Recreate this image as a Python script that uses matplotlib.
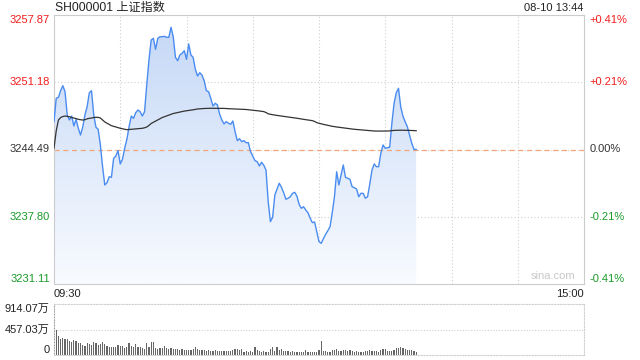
import matplotlib.pyplot as plt
import numpy as np
from matplotlib.colors import LinearSegmentedColormap

plt.rcParams['font.family'] = ['Liberation Sans', 'Noto Sans CJK SC', 'DejaVu Sans']

title = "SH000001 上证指数"
stamp = "08-10 13:44"
prev_close = 3244.49
y_ticks = [3257.87, 3251.18, 3244.49, 3237.80, 3231.11]
pct_labels = ["+0.41%", "+0.21%", "0.00%", "-0.21%", "-0.41%"]
tick_colors = ["#f21c1c", "#f21c1c", "#333333", "#1a9a2a", "#1a9a2a"]
vol_ticks = [914.07, 457.03, 0]
vol_labels = ["914.07万", "457.03万", "0"]

# one value per minute from 09:30
price = [
    3247.26, 3249.58, 3249.68, 3250.34, 3250.84, 3250.24, 3247.92, 3247.42, 3247.82, 3246.83,
    3247.49, 3246.60, 3245.93, 3246.70, 3247.92, 3248.75, 3250.14, 3250.34, 3247.92, 3246.70,
    3246.50, 3244.94, 3242.78, 3240.96, 3241.19, 3241.78, 3241.72, 3243.61, 3243.84, 3244.37,
    3243.05, 3243.51, 3244.61, 3245.50, 3246.76, 3247.82, 3247.59, 3248.15, 3248.42, 3248.25,
    3247.82, 3248.25, 3250.91, 3253.39, 3255.38, 3255.55, 3254.46, 3255.55, 3255.71, 3255.71,
    3255.75, 3255.65, 3255.65, 3256.65, 3255.71, 3253.66, 3253.32, 3253.89, 3254.06, 3254.32,
    3253.46, 3254.99, 3253.89, 3253.66, 3252.47, 3251.80, 3252.13, 3251.90, 3251.33, 3250.34,
    3250.24, 3249.58, 3248.82, 3249.09, 3248.92, 3248.02, 3247.42, 3247.03, 3247.26, 3247.10,
    3247.00, 3247.33, 3246.26, 3245.37, 3245.56, 3245.27, 3245.37, 3245.17, 3245.17, 3244.27,
    3243.84, 3243.38, 3243.28, 3242.85, 3243.22, 3242.92, 3242.45, 3239.30, 3237.31, 3237.75,
    3239.96, 3240.53, 3241.13, 3240.73, 3240.19, 3239.54, 3239.64, 3239.79, 3240.13, 3240.23,
    3239.86, 3239.04, 3238.64, 3238.80, 3238.47, 3238.20, 3237.65, 3237.21, 3237.28, 3236.31,
    3235.32, 3235.16, 3235.62, 3236.05, 3236.41, 3236.81, 3238.20, 3239.79, 3242.28, 3240.96,
    3241.95, 3242.95, 3241.72, 3241.62, 3241.53, 3240.79, 3240.69, 3240.56, 3239.79, 3240.13,
    3240.13, 3239.64, 3239.79, 3241.06, 3242.45, 3243.05, 3242.78, 3242.78, 3244.11, 3244.94,
    3244.61, 3244.67, 3244.71, 3247.10, 3249.09, 3250.14, 3250.58, 3248.75, 3247.82, 3247.26,
    3246.76, 3245.93, 3245.11, 3244.51, 3244.49,
]

avg_price = [
    3244.61, 3246.33, 3247.42, 3247.67, 3247.77, 3247.82, 3247.79, 3247.75, 3247.67, 3247.62,
    3247.57, 3247.49, 3247.45, 3247.42, 3247.45, 3247.54, 3247.59, 3247.62, 3247.67, 3247.69,
    3247.69, 3247.62, 3247.42, 3247.23, 3247.10, 3246.98, 3246.86, 3246.80, 3246.73, 3246.66,
    3246.60, 3246.55, 3246.50, 3246.46, 3246.48, 3246.50, 3246.51, 3246.53, 3246.56, 3246.58,
    3246.60, 3246.65, 3246.73, 3246.88, 3247.08, 3247.20, 3247.33, 3247.45, 3247.57, 3247.67,
    3247.75, 3247.84, 3247.92, 3248.00, 3248.07, 3248.12, 3248.17, 3248.22, 3248.27, 3248.31,
    3248.34, 3248.37, 3248.40, 3248.44, 3248.48, 3248.52, 3248.54, 3248.56, 3248.57, 3248.58,
    3248.59, 3248.59, 3248.59, 3248.59, 3248.59, 3248.59, 3248.58, 3248.58, 3248.56, 3248.55,
    3248.54, 3248.53, 3248.52, 3248.51, 3248.50, 3248.49, 3248.49, 3248.47, 3248.44, 3248.42,
    3248.40, 3248.37, 3248.35, 3248.32, 3248.29, 3248.26, 3248.17, 3248.04, 3247.99, 3247.95,
    3247.91, 3247.88, 3247.85, 3247.82, 3247.79, 3247.76, 3247.73, 3247.69, 3247.66, 3247.63,
    3247.60, 3247.56, 3247.52, 3247.49, 3247.46, 3247.43, 3247.40, 3247.36, 3247.28, 3247.16,
    3247.10, 3247.05, 3246.99, 3246.94, 3246.89, 3246.84, 3246.80, 3246.76, 3246.73, 3246.70,
    3246.67, 3246.64, 3246.61, 3246.58, 3246.55, 3246.53, 3246.50, 3246.48, 3246.45, 3246.43,
    3246.41, 3246.39, 3246.37, 3246.35, 3246.33, 3246.33, 3246.32, 3246.32, 3246.32, 3246.32,
    3246.33, 3246.33, 3246.34, 3246.37, 3246.39, 3246.40, 3246.41, 3246.41, 3246.40, 3246.40,
    3246.40, 3246.39, 3246.38, 3246.37, 3246.36,
]

# volume in 万
volume = [
    914.07, 457.03, 335, 286, 305, 286, 286, 256, 225, 268,
    256, 213, 213, 183, 165, 213, 195, 183, 232, 219,
    183, 201, 232, 195, 165, 152, 140, 140, 140, 171,
    165, 165, 122, 152, 213, 165, 146, 195, 140, 140,
    122, 110, 213, 152, 232, 232, 134, 110, 122, 122,
    159, 122, 110, 122, 104, 104, 104, 91, 104, 91,
    85, 91, 85, 110, 140, 110, 91, 91, 91, 79,
    85, 73, 79, 85, 73, 73, 73, 73, 73, 73,
    79, 91, 104,
    104, 91, 104, 61, 73, 61, 73, 61, 140, 91,
    73, 61, 79, 61, 61, 110, 152, 73, 152, 91,
    110, 73, 73, 73, 61, 73, 61, 61, 61, 61,
    61, 91, 61, 61, 61, 61, 61, 91, 256, 73,
    73, 61, 61, 91, 91, 110, 73, 73, 91, 91,
    73, 91, 73, 61, 73, 61, 61, 61, 73, 73,
    91, 73, 73, 73, 61, 91, 110, 110, 73, 73,
    73, 91, 122, 122, 140, 122, 110, 91, 91, 91,
    73, 61,
]

x = np.arange(len(price))
n_min = 240
grid_c = "#d0d0d0"

fig = plt.figure(figsize=(6.4, 3.6), dpi=100)
ax = fig.add_axes([54/640, 1-284/360, 530/640, 269/360])
axv = fig.add_axes([54/640, 1-355/360, 530/640, 51/360])

# price panel
for m in range(30, n_min, 30):
    ax.axvline(m, color=grid_c, ls=(0, (1, 2)), lw=0.8, zorder=0)
for v in y_ticks[1:-1]:
    ax.axhline(v, color=grid_c, ls=(0, (1, 2)), lw=0.8, zorder=0)
ax.axhline(prev_close, color="#f0a57a", ls=(0, (4, 3)), lw=0.9, zorder=2)

fill = ax.fill_between(x, price, y_ticks[-1], facecolor="none", edgecolor="none")
cmap = LinearSegmentedColormap.from_list("fill", ["#c4d7f6", "#f8fbff"])
grad = np.linspace(0, 1, 256).reshape(-1, 1)
img = ax.imshow(grad, cmap=cmap, aspect="auto", origin="upper",
                extent=[0, n_min, y_ticks[-1], y_ticks[0]], zorder=1)
img.set_clip_path(fill.get_paths()[0], transform=ax.transData)

ax.plot(x, price, color="#4a8cf0", lw=1.0, zorder=3)
ax.plot(x, avg_price, color="#333333", lw=0.9, zorder=4)

ax.set_xlim(0, n_min)
ax.set_ylim(y_ticks[-1], y_ticks[0])
ax.set_xticks([])
ax.set_yticks([])
for s in ax.spines.values():
    s.set_color("#cccccc")
    s.set_linewidth(0.8)

ytr = ax.get_yaxis_transform()
for i, (v, pl, c) in enumerate(zip(y_ticks, pct_labels, tick_colors)):
    va = "top" if i == 0 else ("bottom" if i == len(y_ticks) - 1 else "center")
    ax.text(-0.008, v, f"{v:.2f}", transform=ytr, ha="right", va=va, color=c, fontsize=8)
    ax.text(1.011, v, pl, transform=ytr, ha="left", va=va, color=c, fontsize=8)

ax.text(0, -0.017, "09:30", transform=ax.transAxes, ha="left", va="top", fontsize=8, color="#222222")
ax.text(1, -0.017, "15:00", transform=ax.transAxes, ha="right", va="top", fontsize=8, color="#222222")
ax.text(0.983, 0.012, "sina.com", transform=ax.transAxes, ha="right", va="bottom",
        fontsize=8, color="#c8c8c8")

fig.text(55/640, 1-8/360, title, ha="left", va="center", fontsize=8.7, color="#222222")
fig.text(583/640, 1-8/360, stamp, ha="right", va="center", fontsize=8, color="#222222")

# volume panel
axv.axhline(vol_ticks[1], color=grid_c, ls=(0, (1, 1.5)), lw=0.8, zorder=0)
axv.bar(np.arange(len(volume)), volume, width=0.55, color="#666666", zorder=2)
axv.set_xlim(0, n_min)
axv.set_ylim(0, vol_ticks[0])
axv.set_xticks([])
axv.set_yticks([])
for s in axv.spines.values():
    s.set_color(grid_c)
    s.set_linestyle((0, (1, 1.5)))
    s.set_linewidth(0.8)

vtr = axv.get_yaxis_transform()
for i, (v, lab) in enumerate(zip(vol_ticks, vol_labels)):
    va = "top" if i == 0 else ("bottom" if i == len(vol_ticks) - 1 else "center")
    axv.text(-0.008, v, lab, transform=vtr, ha="right", va=va, fontsize=8, color="#222222")

fig.savefig("out.png", dpi=100)
